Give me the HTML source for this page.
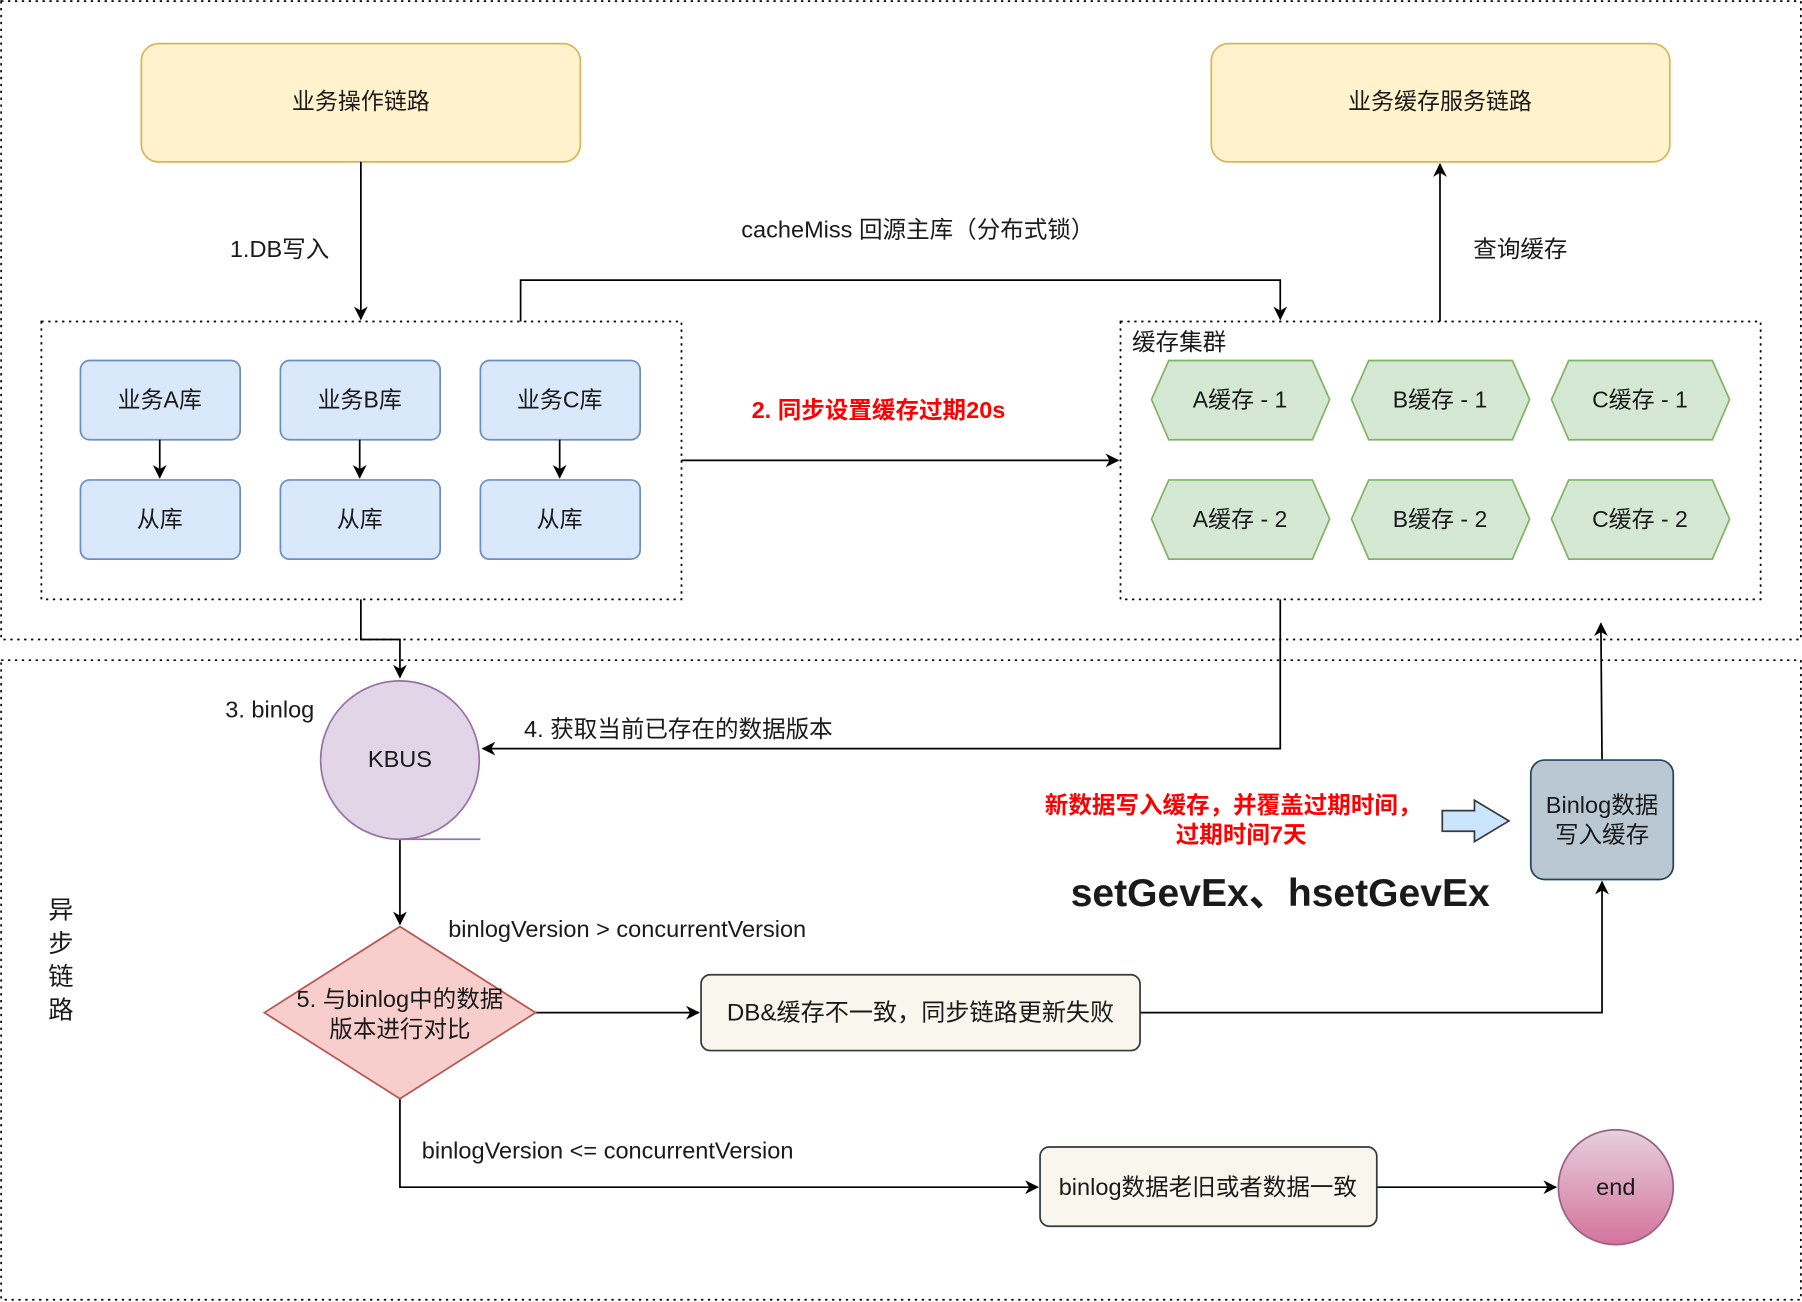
<!DOCTYPE html>
<html><head><meta charset="utf-8"><style>
html,body{margin:0;padding:0;background:#fff;}
svg{display:block;}
text{font-family:"Liberation Sans","Noto Sans CJK SC",sans-serif;fill:#1a1a1a;}
</style></head><body>
<svg width="1802" height="1302" viewBox="0 0 1568 1134" preserveAspectRatio="none" xmlns="http://www.w3.org/2000/svg">
<defs>
<marker id="a" markerWidth="12" markerHeight="12" refX="11" refY="6" orient="auto" markerUnits="userSpaceOnUse">
<path d="M0,0 L12,6 L0,12 L3.5,6 z" fill="#000"/></marker>
<linearGradient id="g" x1="0" y1="0" x2="0" y2="1"><stop offset="0" stop-color="#e6d0de"/><stop offset="1" stop-color="#d5739d"/></linearGradient>
</defs>
<g fill="none" stroke="#000" stroke-width="1.5" stroke-dasharray="2,4">
<rect x="1" y="1" width="1566" height="556"/>
<rect x="1" y="575" width="1566" height="557"/>
<rect x="36" y="280" width="557" height="242"/>
<rect x="975" y="280" width="557" height="242"/>
</g>
<g font-size="20" text-anchor="middle">
<rect x="123" y="38" width="382" height="103" rx="15" fill="#fff2cc" stroke="#d6b656" stroke-width="1.5"/>
<text x="314" y="95">业务操作链路</text>
<rect x="1054" y="38" width="399" height="103" rx="15" fill="#fff2cc" stroke="#d6b656" stroke-width="1.5"/>
<text x="1253" y="95">业务缓存服务链路</text>
<g fill="#dae8fc" stroke="#6c8ebf" stroke-width="1.5">
<rect x="70" y="314" width="139" height="69" rx="8"/><rect x="244" y="314" width="139" height="69" rx="8"/><rect x="418" y="314" width="139" height="69" rx="8"/>
<rect x="70" y="418" width="139" height="69" rx="8"/><rect x="244" y="418" width="139" height="69" rx="8"/><rect x="418" y="418" width="139" height="69" rx="8"/>
</g>
<text x="139" y="355">业务A库</text><text x="313" y="355">业务B库</text><text x="487" y="355">业务C库</text>
<text x="139" y="459">从库</text><text x="313" y="459">从库</text><text x="487" y="459">从库</text>
<g fill="#d5e8d4" stroke="#82b366" stroke-width="1.5">
<polygon points="1017,314 1142,314 1157,348 1142,383 1017,383 1002,348"/>
<polygon points="1191,314 1316,314 1331,348 1316,383 1191,383 1176,348"/>
<polygon points="1365,314 1490,314 1505,348 1490,383 1365,383 1350,348"/>
<polygon points="1017,418 1142,418 1157,452 1142,487 1017,487 1002,452"/>
<polygon points="1191,418 1316,418 1331,452 1316,487 1191,487 1176,452"/>
<polygon points="1365,418 1490,418 1505,452 1490,487 1365,487 1350,452"/>
</g>
<text x="1079" y="355">A缓存 - 1</text><text x="1253" y="355">B缓存 - 1</text><text x="1427" y="355">C缓存 - 1</text>
<text x="1079" y="459">A缓存 - 2</text><text x="1253" y="459">B缓存 - 2</text><text x="1427" y="459">C缓存 - 2</text>
</g>
<g fill="none" stroke="#000" stroke-width="1.5">
<path d="M314,141 V278" marker-end="url(#a)"/>
<path d="M139,383 V416" marker-end="url(#a)"/><path d="M313,383 V416" marker-end="url(#a)"/><path d="M487,383 V416" marker-end="url(#a)"/>
<path d="M453,280 V244 H1114 V278" marker-end="url(#a)"/>
<path d="M593,401 H973" marker-end="url(#a)"/>
<path d="M1253,280 V143" marker-end="url(#a)"/>
<path d="M314,522 V557 H348 V590" marker-end="url(#a)"/>
<path d="M1114,522 V652 H420" marker-end="url(#a)"/>
<path d="M348,731 V805" marker-end="url(#a)"/>
<path d="M466,882 H608" marker-end="url(#a)"/>
<path d="M992,882 H1394 V768" marker-end="url(#a)"/>
<path d="M1394,662 L1393,543" marker-end="url(#a)"/>
<path d="M348,957 V1034 H903" marker-end="url(#a)"/>
<path d="M1198,1034 H1354" marker-end="url(#a)"/>
</g>
<g font-size="20.5">
<text x="200" y="224">1.DB写入</text>
<text x="645" y="207">cacheMiss 回源主库（分布式锁）</text>
<text x="1282" y="224">查询缓存</text>
<text x="985" y="305">缓存集群</text>
<text x="654" y="364" style="fill:#ff0000;font-weight:bold">2. 同步设置缓存过期20s</text>
<text x="196" y="625">3. binlog</text>
<text x="456" y="642">4. 获取当前已存在的数据版本</text>
<text x="390" y="816">binlogVersion &gt; concurrentVersion</text>
<text x="367" y="1009">binlogVersion &lt;= concurrentVersion</text>
</g>
<circle cx="348" cy="662" r="69" fill="#e1d5e7" stroke="#9673a6" stroke-width="1.5"/>
<path d="M348,731 H418" stroke="#9673a6" stroke-width="1.5"/>
<text x="348" y="668" font-size="20.5" text-anchor="middle">KBUS</text>
<polygon points="230,882 348,807 466,882 348,957" fill="#f8cecc" stroke="#b85450" stroke-width="1.5"/>
<text x="348" y="877" font-size="20.5" text-anchor="middle">5. 与binlog中的数据</text>
<text x="348" y="903" font-size="20.5" text-anchor="middle">版本进行对比</text>
<rect x="610" y="849" width="382" height="66" rx="8" fill="#f9f7ed" stroke="#36393d" stroke-width="1.5"/>
<text x="801" y="889" font-size="21" text-anchor="middle">DB&amp;缓存不一致，同步链路更新失败</text>
<rect x="1332" y="662" width="124" height="104" rx="12" fill="#bac8d3" stroke="#23445d" stroke-width="1.5"/>
<text x="1394" y="708" font-size="20.5" text-anchor="middle">Binlog数据</text>
<text x="1394" y="734" font-size="20.5" text-anchor="middle">写入缓存</text>
<polygon points="1255,706 1283,706 1283,697 1313,715 1283,733 1283,724 1255,724" fill="#cce5ff" stroke="#36393d" stroke-width="1.5"/>
<text x="1073" y="708" font-size="20.5" text-anchor="middle" style="fill:#ff0000;font-weight:bold">新数据写入缓存，并覆盖过期时间，</text>
<text x="1080" y="734" font-size="20.5" text-anchor="middle" style="fill:#ff0000;font-weight:bold">过期时间7天</text>
<text x="1114" y="789" font-size="34" font-weight="bold" text-anchor="middle">setGevEx、hsetGevEx</text>
<rect x="905" y="999" width="293" height="69" rx="8" fill="#f9f7ed" stroke="#36393d" stroke-width="1.5"/>
<text x="1051" y="1041" font-size="20.5" text-anchor="middle">binlog数据老旧或者数据一致</text>
<ellipse cx="1406" cy="1034" rx="50" ry="50" fill="url(#g)" stroke="#996185" stroke-width="1.5"/>
<text x="1406" y="1041" font-size="20.5" text-anchor="middle">end</text>
<g font-size="22" text-anchor="middle">
<text x="53" y="800">异</text><text x="53" y="829">步</text><text x="53" y="858">链</text><text x="53" y="887">路</text>
</g>
</svg>
</body></html>
